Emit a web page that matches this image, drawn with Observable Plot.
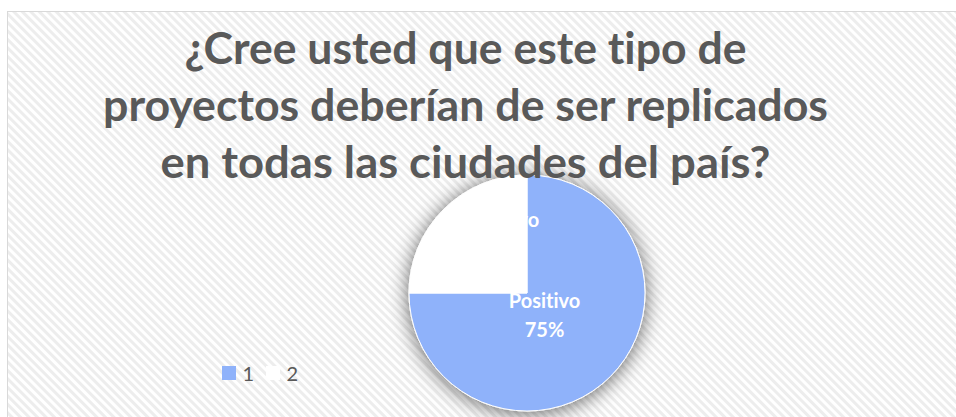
<!DOCTYPE html>
<html><head><meta charset="utf-8">
<script src="https://cdn.jsdelivr.net/npm/d3@7"></script>
<script src="https://cdn.jsdelivr.net/npm/@observablehq/plot@0.6"></script>
<style>html,body{margin:0;padding:0;background:#fff;overflow:hidden;} svg text{font-variant-ligatures:none;}</style>
</head><body><div id="chart"></div>
<script>
// ---- data ----
const titleLines = ["¿Cree usted que este tipo de", "proyectos deberían de ser replicados", "en todas las ciudades del país?"];
const categories = ["Positivo", "Negativo"];
const legendKeys = ["1", "2"];
const shares = [75, 25];
const sliceColors = ["#8FB2FA", "#FFFFFF"];

// ---- layout ----
const W = 956, H = 417;
const FONT = "Lato, 'Open Sans', sans-serif";
const pieCx = 527, pieCy = 293, pieR = 118;
const titleX = 465, titleBaselines = [63, 120, 177], titleWidths = [562, 725, 610];
const labelSize = 20;

const rows = categories.map((c, i) => ({category: c, key: legendKeys[i], share: shares[i], color: sliceColors[i]}));
const slices = d3.pie().sort(null).value(d => d.share)(rows);

const ctx = document.createElement("canvas").getContext("2d");
ctx.font = `bold 100px ${FONT}`;
const titleSize = d3.mean(titleLines, (t, i) => titleWidths[i] / ctx.measureText(t).width * 100);
ctx.font = `bold ${labelSize}px ${FONT}`;
const negW = ctx.measureText(categories[1]).width;

function background(index, {x, y}) {
  const g = d3.create("svg:g");
  const defs = g.append("defs");
  const p = defs.append("pattern").attr("id", "hatch").attr("patternUnits", "userSpaceOnUse")
    .attr("width", 6).attr("height", 6).attr("patternTransform", "rotate(-45)");
  p.append("rect").attr("width", 6).attr("height", 6).attr("fill", "#ffffff");
  p.append("rect").attr("width", 3).attr("height", 6).attr("fill", "#ededed");
  g.append("rect").attr("x", x(7) + 0.5).attr("y", y(11) + 0.5)
    .attr("width", W).attr("height", H).attr("fill", "url(#hatch)").attr("stroke", "#d9d9d9");
  return g.node();
}

function pieMark(index, {x, y}) {
  const g = d3.create("svg:g");
  const f = g.append("defs").append("filter").attr("id", "pieShadow")
    .attr("x", "-30%").attr("y", "-30%").attr("width", "160%").attr("height", "160%");
  f.append("feDropShadow").attr("dx", 0).attr("dy", 2).attr("stdDeviation", 10)
    .attr("flood-color", "#000").attr("flood-opacity", 0.6);
  const r = x(pieCx + pieR) - x(pieCx);
  const arc = d3.arc().innerRadius(0).outerRadius(r);
  g.append("g").attr("transform", `translate(${x(pieCx)},${y(pieCy)})`).attr("filter", "url(#pieShadow)")
    .selectAll("path").data(slices).join("path")
    .attr("d", arc).attr("fill", d => d.data.color).attr("stroke", "#ffffff").attr("stroke-width", 1);
  return g.node();
}

// label anchor positions (last-line baselines)
const labelPos = [{x: pieCx + 17, y: pieCy + 43}, {x: pieCx + 12 - negW / 2, y: pieCy - 38}];
const labels = rows.map((d, i) => ({text: `${d.category}\n${d.share}%`, ...labelPos[i]}));

const legendX = [222, 266], legendY = 366, sw = 14;

const chart = Plot.plot({
  width: W, height: H, margin: 0,
  x: {domain: [0, W], range: [0, W], axis: null},
  y: {domain: [0, H], range: [0, H], axis: null},
  style: {background: "#fff", fontFamily: FONT},
  marks: [
    background,
    pieMark,
    Plot.text(labels, {x: "x", y: "y", text: "text", textAnchor: "middle", lineAnchor: "bottom", lineHeight: 1.45, fill: "#fff", fontWeight: "bold", fontSize: labelSize}),
    Plot.text(titleLines, {x: titleX, y: (d, i) => titleBaselines[i], text: d => d, lineAnchor: "bottom", fill: "#595959", fontWeight: "bold", fontSize: titleSize, className: "ttl"}),
    Plot.rect(rows, {x1: (d, i) => legendX[i], x2: (d, i) => legendX[i] + sw, y1: legendY, y2: legendY + sw, fill: "color"}),
    Plot.text(rows, {x: (d, i) => legendX[i] + sw + 6, y: legendY + sw, text: "key", textAnchor: "start", lineAnchor: "bottom", fill: "#595959", fontSize: 20})
  ]
});
d3.select(chart).selectAll(".ttl text").each(function(d, i) {
  d3.select(this).attr("textLength", titleWidths[i]).attr("lengthAdjust", "spacingAndGlyphs");
});
document.getElementById("chart").appendChild(chart);
</script>
</body></html>
